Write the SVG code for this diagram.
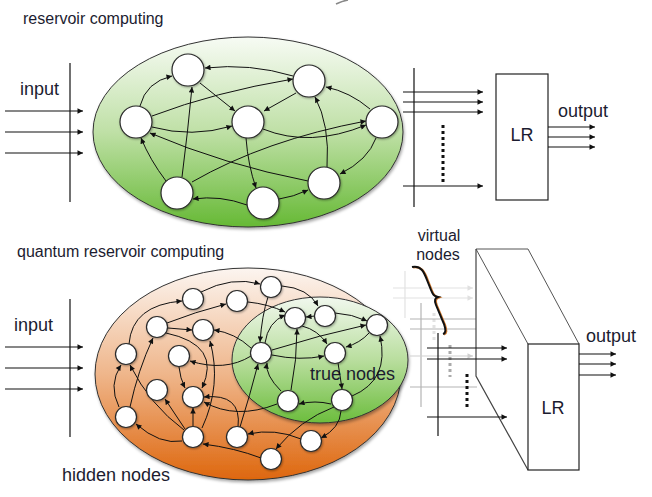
<svg xmlns="http://www.w3.org/2000/svg" width="652" height="497" viewBox="0 0 652 497">
<defs>
<style>
.t{font-family:"Liberation Sans",Arial,Helvetica,sans-serif;fill:#1c1c30}
.e{fill:none;stroke:#111;stroke-width:1}
.ea{fill:none;stroke:#111;stroke-width:1;marker-end:url(#ah)}
.nd{fill:#fff;stroke:#2b2b2b;stroke-width:1.2;filter:url(#nsh)}
.ln{stroke:#111;stroke-width:1.2;fill:none}
.la{stroke:#111;stroke-width:1.2;fill:none;marker-end:url(#ah)}
.g1{stroke:#e2e2e2;stroke-width:1.2;fill:none}
.g2{stroke:#b4b4b4;stroke-width:1.2;fill:none}
</style>
<marker id="ah" viewBox="0 0 10 10" refX="10" refY="5" markerWidth="7" markerHeight="5.5" markerUnits="userSpaceOnUse" orient="auto"><path d="M0,0 L10,5 L0,10 z" fill="#111"/></marker>
<marker id="ahg1" viewBox="0 0 10 10" refX="10" refY="5" markerWidth="7" markerHeight="5.5" markerUnits="userSpaceOnUse" orient="auto"><path d="M0,0 L10,5 L0,10 z" fill="#e0e0e0"/></marker>
<marker id="ahg2" viewBox="0 0 10 10" refX="10" refY="5" markerWidth="7" markerHeight="5.5" markerUnits="userSpaceOnUse" orient="auto"><path d="M0,0 L10,5 L0,10 z" fill="#cfcfcf"/></marker>
<linearGradient id="gGreen" x1="0" y1="0" x2="0" y2="1">
<stop offset="0" stop-color="#f7fbf4"/><stop offset="0.5" stop-color="#bfe0a6"/><stop offset="1" stop-color="#66b935"/>
</linearGradient>
<linearGradient id="gGreen2" x1="0" y1="0" x2="0" y2="1">
<stop offset="0" stop-color="#f1f8ee"/><stop offset="0.5" stop-color="#b9de9e"/><stop offset="1" stop-color="#6cbd3d"/>
</linearGradient>
<linearGradient id="gOrange" x1="0" y1="0" x2="0" y2="1">
<stop offset="0" stop-color="#fcf5f0"/><stop offset="0.5" stop-color="#efb68b"/><stop offset="1" stop-color="#de670e"/>
</linearGradient>
<filter id="sh" x="-10%" y="-10%" width="120%" height="125%"><feDropShadow dx="1" dy="2" stdDeviation="1.5" flood-opacity="0.35"/></filter>
<filter id="nsh" x="-30%" y="-30%" width="160%" height="160%"><feDropShadow dx="0.8" dy="1" stdDeviation="0.8" flood-opacity="0.35"/></filter>
</defs>
<rect width="652" height="497" fill="#fff"/>
<path d="M336,4 Q342,1 348,0" stroke="#888" stroke-width="1.5" fill="none"/>

<!-- ===== TOP: reservoir computing ===== -->
<text class="t" x="23" y="24" font-size="16">reservoir computing</text>
<g id="top-input">
<text class="t" x="20" y="95" font-size="18">input</text>
<line class="ln" x1="70" y1="63" x2="70" y2="202"/>
<line class="la" x1="5" y1="111" x2="83" y2="111"/>
<line class="la" x1="5" y1="132" x2="83" y2="132"/>
<line class="la" x1="5" y1="153" x2="83" y2="153"/>
</g>
<g id="top-reservoir">
<ellipse cx="248" cy="132" rx="155" ry="95" fill="url(#gGreen)" stroke="#333" stroke-width="1" filter="url(#sh)"/>
</g>
<g id="top-connectors">
<path class="ea" d="M293,76 Q250,63 205,68"/>
<path class="ea" d="M200,83 L235,111"/>
<path class="ea" d="M296,93 L264,111"/>
<path class="ea" d="M140,106 Q146,82 172,76"/>
<path class="ea" d="M152,116 Q215,92 293,79"/>
<path class="ea" d="M152,127 Q192,138 232,126"/>
<path class="ea" d="M166,181 Q150,160 141,138"/>
<path class="ea" d="M182,177 Q188,130 192,87"/>
<path class="ea" d="M308,181 Q225,165 150,133"/>
<path class="ea" d="M192,182 Q265,140 366,121"/>
<path class="ea" d="M263,129 Q310,148 366,125"/>
<path class="ea" d="M246,138 Q248,165 256,188"/>
<path class="ea" d="M247,205 Q220,195 193,199"/>
<path class="ea" d="M279,199 Q293,197 308,190"/>
<path class="ea" d="M327,167 Q330,125 315,97"/>
<path class="ea" d="M370,109 Q350,92 326,87"/>
<path class="ea" d="M376,138 Q368,160 340,174"/>
</g>
<g id="top-nodes">
<g id="r1"><circle class="nd" cx="188" cy="70" r="16"/></g>
<g id="r2"><circle class="nd" cx="309" cy="81" r="16"/></g>
<g id="r3"><circle class="nd" cx="136" cy="122" r="16"/></g>
<g id="r4"><circle class="nd" cx="248" cy="122" r="16"/></g>
<g id="r5"><circle class="nd" cx="382" cy="122" r="16"/></g>
<g id="r6"><circle class="nd" cx="177" cy="193" r="16"/></g>
<g id="r7"><circle class="nd" cx="263" cy="203" r="16"/></g>
<g id="r8"><circle class="nd" cx="324" cy="183" r="16"/></g>
</g>
<g id="top-readout">
<line class="ln" x1="414" y1="68" x2="414" y2="207"/>
<line class="la" x1="403" y1="92" x2="483" y2="92"/>
<line class="la" x1="403" y1="102" x2="483" y2="102"/>
<line class="la" x1="403" y1="112" x2="483" y2="112"/>
<line class="la" x1="403" y1="186" x2="483" y2="186"/>
<line x1="443" y1="125" x2="443" y2="183" stroke="#111" stroke-width="3" stroke-dasharray="3,3"/>
</g>
<g id="top-LR">
<rect x="496" y="74" width="52" height="126" fill="#fff" stroke="#222" stroke-width="1.2"/>
<text class="t" x="522" y="141" font-size="18" text-anchor="middle">LR</text>
</g>
<g id="top-output">
<text class="t" x="558" y="117" font-size="18">output</text>
<line class="la" x1="548" y1="127" x2="595" y2="127"/>
<line class="la" x1="548" y1="137" x2="595" y2="137"/>
<line class="la" x1="548" y1="147" x2="595" y2="147"/>
</g>

<!-- ===== BOTTOM: quantum reservoir computing ===== -->
<text class="t" x="17" y="257" font-size="16">quantum reservoir computing</text>
<g id="bottom-input">
<text class="t" x="14" y="331" font-size="18">input</text>
<line class="ln" x1="70" y1="299" x2="70" y2="437"/>
<line class="la" x1="5" y1="347" x2="83" y2="347"/>
<line class="la" x1="5" y1="368" x2="83" y2="368"/>
<line class="la" x1="5" y1="389" x2="83" y2="389"/>
</g>
<g id="hidden-reservoir">
<ellipse cx="248" cy="374" rx="153" ry="106" fill="url(#gOrange)" stroke="#333" stroke-width="1" filter="url(#sh)"/>
</g>
<g id="true-reservoir">
<ellipse cx="320" cy="360" rx="88" ry="63" fill="url(#gGreen2)" stroke="#333" stroke-width="1" filter="url(#sh)"/>
</g>
<text class="t" x="62" y="481" font-size="18">hidden nodes</text>
<text class="t" x="310" y="380" font-size="18">true nodes</text>
<g id="bottom-connectors">
<path class="ea" d="M201,292 Q232,276 260,284"/>
<path class="ea" d="M129,344 Q132,305 182,301"/>
<path class="ea" d="M167,323 Q195,312 226,304"/>
<path class="ea" d="M168,328 L192,330"/>
<path class="ea" d="M251,348 Q235,333 214,330"/>
<path class="ea" d="M251,356 Q225,372 190,361"/>
<path class="ea" d="M179,367 Q180,378 185,388"/>
<path class="ea" d="M166,333 Q222,345 202,388"/>
<path class="ea" d="M202,428 Q222,385 210,341"/>
<path class="ea" d="M193,426 L193,408"/>
<path class="ea" d="M185,429 L165,399"/>
<path class="ea" d="M184,430 Q150,405 130,365"/>
<path class="ea" d="M119,407 Q108,385 121,365"/>
<path class="ea" d="M130,407 Q138,370 153,338"/>
<path class="ea" d="M182,441 Q160,445 136,424"/>
<path class="ea" d="M261,458 Q235,448 203,444"/>
<path class="ea" d="M238,427 Q242,393 204,397"/>
<path class="ea" d="M277,404 Q236,420 204,402"/>
<path class="ea" d="M240,427 Q250,395 258,364"/>
<path class="ea" d="M301,439 Q275,428 248,434"/>
<path class="ea" d="M334,407 Q300,420 276,449"/>
<path class="ea" d="M341,411 Q340,428 321,438"/>
<path class="ea" d="M331,404 Q315,400 299,404"/>
<path class="ea" d="M281,391 Q265,375 267,363"/>
<path class="ea" d="M291,390 Q297,360 297,329"/>
<path class="ea" d="M268,297 Q262,315 260,342"/>
<path class="ea" d="M265,343 Q268,322 285,315"/>
<path class="ea" d="M248,302 Q268,304 285,312"/>
<path class="ea" d="M282,286 Q308,288 318,306"/>
<path class="ea" d="M315,316 L306,317"/>
<path class="ea" d="M335,313 Q352,314 367,321"/>
<path class="ea" d="M272,350 Q320,335 366,325"/>
<path class="ea" d="M272,355 Q300,361 324,356"/>
<path class="ea" d="M302,326 Q318,330 327,344"/>
<path class="ea" d="M369,333 Q360,343 346,347"/>
<path class="ea" d="M338,363 Q340,375 342,389"/>
<path class="ea" d="M352,396 Q390,380 380,336"/>
</g>
<g id="bottom-nodes">
<g id="q-a"><circle class="nd" cx="271" cy="287" r="10.5"/></g>
<g id="q-b"><circle class="nd" cx="193" cy="299" r="10.5"/></g>
<g id="q-c"><circle class="nd" cx="237" cy="301" r="10.5"/></g>
<g id="q-d"><circle class="nd" cx="295" cy="318" r="10.5"/></g>
<g id="q-e"><circle class="nd" cx="325" cy="316" r="10.5"/></g>
<g id="q-f"><circle class="nd" cx="377" cy="325" r="10.5"/></g>
<g id="q-g"><circle class="nd" cx="157" cy="327" r="10.5"/></g>
<g id="q-h"><circle class="nd" cx="203" cy="330" r="10.5"/></g>
<g id="q-i"><circle class="nd" cx="126" cy="354" r="10.5"/></g>
<g id="q-j"><circle class="nd" cx="179" cy="356" r="10.5"/></g>
<g id="q-k"><circle class="nd" cx="261" cy="353" r="10.5"/></g>
<g id="q-l"><circle class="nd" cx="335" cy="353" r="10.5"/></g>
<g id="q-m"><circle class="nd" cx="157" cy="390" r="10.5"/></g>
<g id="q-n"><circle class="nd" cx="193" cy="397" r="10.5"/></g>
<g id="q-o"><circle class="nd" cx="288" cy="401" r="10.5"/></g>
<g id="q-p"><circle class="nd" cx="342" cy="400" r="10.5"/></g>
<g id="q-q"><circle class="nd" cx="126" cy="417" r="10.5"/></g>
<g id="q-r"><circle class="nd" cx="193" cy="437" r="10.5"/></g>
<g id="q-s"><circle class="nd" cx="237" cy="437" r="10.5"/></g>
<g id="q-t"><circle class="nd" cx="311" cy="441" r="10.5"/></g>
<g id="q-u"><circle class="nd" cx="271" cy="459" r="10.5"/></g>
</g>

<g id="virtual-readout">
<line class="g1" x1="405" y1="271" x2="405" y2="318"/>
<line class="g1" x1="393" y1="288" x2="473" y2="288" marker-end="url(#ahg1)"/>
<line class="g1" x1="393" y1="298" x2="473" y2="298" marker-end="url(#ahg1)"/>
<line x1="434" y1="313" x2="434" y2="343" stroke="#e2e2e2" stroke-width="3" stroke-dasharray="3,3"/>
<line class="g2" x1="421" y1="303" x2="421" y2="407"/>
<line class="g2" x1="410" y1="319" x2="477" y2="319"/>
<line class="g2" x1="410" y1="329" x2="477" y2="329"/>
<line x1="410" y1="356" x2="473" y2="356" stroke="#d0d0d0" stroke-width="1.2" marker-end="url(#ahg2)"/>
<line class="g2" x1="410" y1="387" x2="477" y2="387"/>
<line x1="450" y1="345" x2="450" y2="377" stroke="#aaa" stroke-width="3" stroke-dasharray="3,3"/>
</g>
<g id="virtual-label">
<text class="t" x="439" y="241" font-size="16" text-anchor="middle">virtual</text>
<text class="t" x="438" y="260" font-size="16" text-anchor="middle">nodes</text>
<path d="M412,267 C421,265 424,272 427,280 L431,290 C433,295 434,296 438,297 C435,298 434,300 436,305 L444,324 C446,330 446,333 443,334" fill="none" stroke="#d07a30" stroke-width="2" transform="translate(1,0.5)"/>
<path d="M412,267 C421,265 424,272 427,280 L431,290 C433,295 434,296 438,297 C435,298 434,300 436,305 L444,324 C446,330 446,333 443,334" fill="none" stroke="#111" stroke-width="2"/>
</g>
<g id="bottom-LR">
<polygon points="476,249 528,249 579,344 579,470 528,470 476,376" fill="#fff" stroke="none"/>
<polyline points="476,249 528,249 579,344" fill="none" stroke="#555" stroke-width="1"/>
<line x1="476" y1="249" x2="528" y2="344" stroke="#555" stroke-width="1"/>
<polyline points="476,249 476,376 528,470" fill="none" stroke="#444" stroke-width="1.2"/>
<rect x="528" y="344" width="51" height="126" fill="#fff" stroke="#222" stroke-width="1.2"/>
<text class="t" x="553" y="414" font-size="18" text-anchor="middle">LR</text>
</g>
<g id="bottom-readout">
<line class="ln" x1="438" y1="333" x2="438" y2="436"/>
<line class="la" x1="427" y1="348" x2="507" y2="348"/>
<line class="la" x1="427" y1="359" x2="507" y2="359"/>
<line class="la" x1="427" y1="417" x2="507" y2="417"/>
<line x1="467" y1="374" x2="467" y2="407" stroke="#111" stroke-width="3" stroke-dasharray="3,3"/>
</g>
<g id="bottom-output">
<text class="t" x="586" y="342" font-size="18">output</text>
<line class="la" x1="579" y1="354" x2="616" y2="354"/>
<line class="la" x1="579" y1="364" x2="616" y2="364"/>
<line class="la" x1="579" y1="375" x2="616" y2="375"/>
</g>
</svg>
